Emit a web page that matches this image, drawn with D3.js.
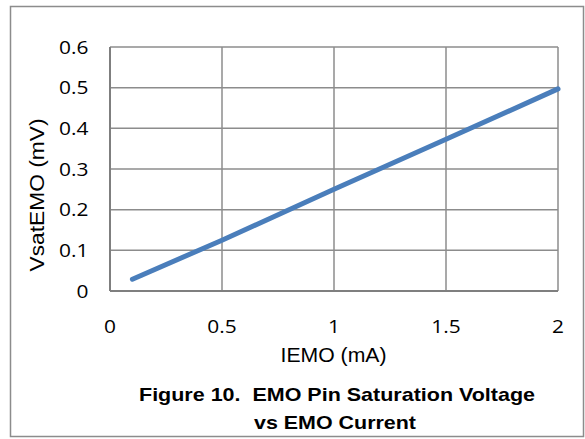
<!DOCTYPE html>
<html><head><meta charset="utf-8">
<script src="https://cdn.jsdelivr.net/npm/d3@7"></script>
<style>body{margin:0;background:#fff}svg{display:block}</style>
</head><body>
<script>
const currents = [0.1, 0.5, 1, 1.5, 2];
const voltages = [0.029, 0.125, 0.25, 0.373, 0.497];
const xTicks = [0, 0.5, 1, 1.5, 2];
const yTicks = [0, 0.1, 0.2, 0.3, 0.4, 0.5, 0.6];
const xTitle = "IEMO (mA)";
const yTitle = "VsatEMO (mV)";
const titleLines = ["Figure 10.  EMO Pin Saturation Voltage", "vs EMO Current"];

const W = 585, H = 439;
const svg = d3.select("body").append("svg").attr("width", W).attr("height", H);
svg.append("rect").attr("x", 10.5).attr("y", 6.5).attr("width", 573).attr("height", 430)
  .attr("fill", "#fff").attr("stroke", "#8c8c8c").attr("stroke-width", 1.5);

const L = 110, R = 558, T = 47, B = 291;
const x = d3.scaleLinear().domain([0, 2]).range([L, R]);
const y = d3.scaleLinear().domain([0, 0.6]).range([B, T]);
const tickFont = "'Open Sans', Carlito, 'Liberation Sans', sans-serif";
const arial = "'Liberation Sans', Arial, sans-serif";

function stretch(sel, factor) {
  sel.each(function () {
    const w = this.getComputedTextLength();
    d3.select(this).attr("textLength", w * factor).attr("lengthAdjust", "spacingAndGlyphs");
  });
}
function fitTo(sel, width) {
  sel.attr("textLength", width).attr("lengthAdjust", "spacingAndGlyphs");
}

// grid
svg.append("g").selectAll("line").data(yTicks).join("line")
  .attr("x1", L).attr("x2", R).attr("y1", d => y(d)).attr("y2", d => y(d))
  .attr("stroke", "#8c8c8c").attr("stroke-width", 1.5);
svg.append("g").selectAll("line").data(xTicks).join("line")
  .attr("y1", T).attr("y2", B).attr("x1", d => x(d)).attr("x2", d => x(d))
  .attr("stroke", "#8c8c8c").attr("stroke-width", 1.5);
svg.append("line").attr("x1", L).attr("x2", L).attr("y1", T).attr("y2", B).attr("stroke", "#7f7f7f").attr("stroke-width", 2);
svg.append("line").attr("x1", L).attr("x2", R).attr("y1", B).attr("y2", B).attr("stroke", "#7f7f7f").attr("stroke-width", 2);

// tick labels
svg.append("g").selectAll("text").data(yTicks).join("text")
  .attr("x", 88.5).attr("y", d => y(d) + 6.6).attr("text-anchor", "end")
  .style("font-family", tickFont).style("font-size", "18.5px").attr("fill", "#000")
  .text(d => d3.format("")(d)).call(stretch, 1.13);
svg.append("g").selectAll("text").data(xTicks).join("text")
  .attr("x", d => x(d)).attr("y", 333.3).attr("text-anchor", "middle")
  .style("font-family", tickFont).style("font-size", "18.5px").attr("fill", "#000")
  .text(d => d3.format("")(d)).call(stretch, 1.13);

// line
svg.append("path").datum(currents.map((c, i) => [c, voltages[i]]))
  .attr("d", d3.line().x(d => x(d[0])).y(d => y(d[1])))
  .attr("fill", "none").attr("stroke", "#4a7ebb").attr("stroke-width", 5).attr("stroke-linecap", "round");

// titles
svg.append("text").attr("x", 333.5).attr("y", 362).attr("text-anchor", "middle")
  .style("font-family", arial).style("font-size", "19.5px").text(xTitle).call(fitTo, 106);
svg.append("text").attr("transform", "translate(43.5,195) rotate(-90)").attr("text-anchor", "middle")
  .style("font-family", arial).style("font-size", "19.5px").text(yTitle).call(fitTo, 153);
const tl = svg.append("g").selectAll("text").data(titleLines).join("text")
  .attr("x", (d, i) => i === 0 ? 337 : 335).attr("y", (d, i) => i === 0 ? 401 : 428.5).attr("text-anchor", "middle")
  .attr("xml:space", "preserve").style("white-space", "pre")
  .style("font-family", arial).style("font-size", "19px").style("font-weight", "bold")
  .text(d => d);
tl.each(function (d, i) { d3.select(this).call(fitTo, i === 0 ? 396 : 162); });
</script>
</body></html>
